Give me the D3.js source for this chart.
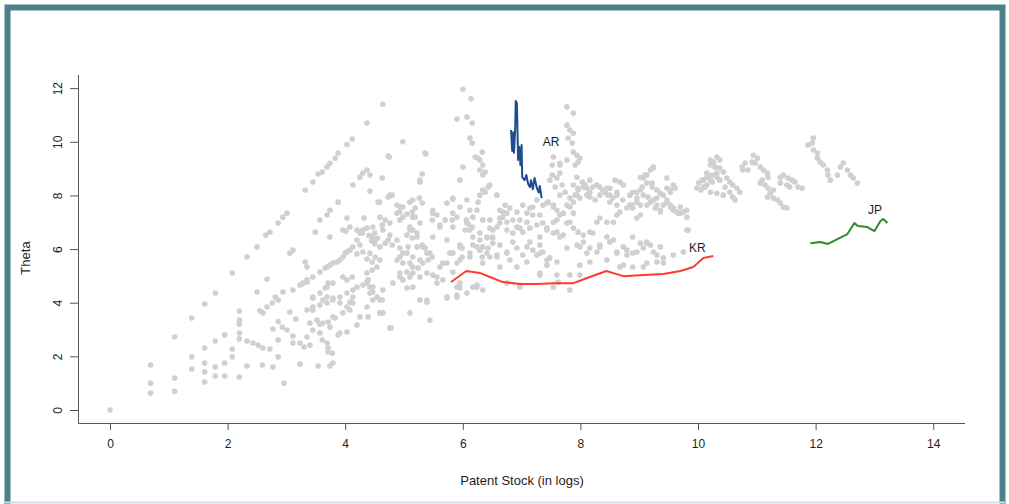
<!DOCTYPE html>
<html>
<head>
<meta charset="utf-8">
<script src="https://cdn.jsdelivr.net/npm/d3@7"></script>
<style>
  html, body { margin: 0; padding: 0; background: #fff; }
  svg { display: block; font-family: "Liberation Sans", Arial, sans-serif; }
</style>
</head>
<body>
<div id="chart"></div>
<script>
// tick labels
const xTicks = [0, 2, 4, 6, 8, 10, 12, 14];
const yTicks = [0, 2, 4, 6, 8, 10, 12];

const obsLowStock = [
  [0, 0], [0.69, 0.63], [0.69, 1.0], [0.69, 1.68], [1.1, 0.7], [1.1, 1.19], [1.1, 2.72],
  [1.39, 1.53], [1.39, 1.98], [1.39, 3.43], [1.61, 1.04], [1.61, 1.42], [1.61, 1.75], [1.61, 2.31],
  [1.61, 3.95], [1.79, 1.27], [1.79, 1.6], [1.79, 2.57], [1.79, 4.36], [1.95, 1.27], [1.95, 1.75],
  [1.95, 2.8], [2.08, 1.98], [2.08, 2.27], [2.08, 5.11], [2.2, 1.23], [2.2, 2.65], [2.2, 2.87],
  [2.2, 3.2], [2.2, 3.35], [2.2, 3.69], [2.33, 5.7], [2.33, 2.57], [2.33, 1.64]
];
const obsLeftFan = [
  [2.5, 6.08], [2.65, 6.52], [2.72, 6.63], [2.86, 6.97], [2.94, 7.19], [3.01, 7.34], [3.32, 8.2], [3.45, 8.5],
  [2.43, 2.5], [2.52, 2.42], [2.6, 2.31], [2.72, 2.27], [2.59, 1.68], [2.77, 1.6], [2.96, 1.0],
  [2.86, 1.98], [2.86, 2.61], [2.77, 3.02], [2.93, 3.09], [3.01, 2.98], [3.11, 2.76], [3.11, 2.5],
  [3.23, 2.5], [3.3, 2.35], [3.4, 2.42], [3.35, 2.72], [3.23, 1.71], [2.5, 4.4], [2.67, 4.88],
  [2.6, 3.62], [2.67, 3.84], [2.76, 3.99], [2.81, 4.21], [2.86, 4.1], [2.55, 3.7], [2.86, 3.3],
  [3.06, 3.65], [3.16, 3.39], [2.94, 4.4], [3.11, 4.47], [3.23, 4.66], [3.35, 4.77], [3.45, 4.96],
  [3.11, 5.96], [3.06, 5.85], [3.32, 5.52], [3.35, 5.33], [3.45, 3.73], [3.45, 4.17], [3.45, 2.98],
  [3.35, 3.73], [3.45, 3.84], [3.4, 3.24], [3.52, 3.35], [3.28, 4.73], [3.35, 4.85], [3.45, 4.21]
];
const obsUpperRidge = [
  [3.54, 8.8], [3.61, 8.87], [3.69, 9.06], [3.74, 9.2], [3.83, 9.39], [3.88, 9.58], [4.03, 9.9],
  [4.12, 10.1], [4.37, 10.7], [4.64, 11.4], [4.98, 10.0], [4.75, 9.43], [4.73, 9.47], [4.63, 8.65],
  [4.42, 8.76], [4.37, 8.95], [4.3, 8.83], [4.25, 8.68], [4.13, 8.39], [4.42, 8.16], [3.88, 7.75],
  [3.74, 7.45], [3.69, 7.27], [3.57, 7.08], [3.49, 6.63], [3.74, 6.45], [4.03, 7.16], [4.01, 6.67],
  [4.32, 7.16], [4.58, 7.75], [4.73, 7.94], [4.8, 8.01], [4.76, 8.01], [4.56, 7.75], [5.37, 9.54],
  [5.36, 9.58], [5.27, 8.5], [5.31, 8.8], [5.27, 8.57]
];
const obsCore = [
  [3.57, 5.14], [3.66, 5.29], [3.74, 5.4], [3.86, 5.52], [3.96, 5.7], [4.03, 5.89], [4.13, 6.08],
  [4.2, 6.34], [4.25, 6.6], [4.3, 6.71], [4.37, 6.78], [4.47, 6.82], [3.54, 1.64], [3.74, 1.64],
  [3.79, 1.75], [3.61, 2.61], [3.69, 2.5], [3.71, 2.31], [3.71, 2.16], [3.78, 2.12], [3.57, 3.2],
  [3.71, 3.28], [3.83, 3.43], [3.88, 2.8], [4.03, 2.91], [4.2, 3.17], [4.39, 3.47], [4.64, 3.62],
  [4.78, 3.06], [3.57, 3.91], [3.62, 4.1], [3.69, 4.21], [3.79, 4.17], [3.91, 3.99], [4.03, 3.84],
  [4.08, 4.02], [4.13, 4.21], [3.57, 4.36], [3.66, 4.55], [3.71, 4.73], [3.96, 4.96], [4.03, 4.85],
  [4.13, 4.47], [4.2, 4.58], [4.3, 4.66], [4.37, 4.77], [4.42, 4.58], [4.47, 4.4], [4.54, 4.21],
  [4.63, 4.1], [3.96, 6.71], [4.08, 6.82], [4.2, 6.71], [4.29, 6.6], [4.46, 6.45], [4.51, 6.34],
  [4.59, 6.08], [4.25, 6.15], [4.3, 5.89], [4.37, 5.63], [4.46, 5.52], [4.2, 5.82], [4.08, 5.96],
  [4.0, 5.85], [3.91, 5.59], [3.79, 5.48], [3.69, 5.33], [3.69, 3.99], [3.79, 4.1], [3.91, 4.21],
  [4.03, 4.36], [3.62, 3.24], [3.79, 3.47], [3.96, 3.62], [4.08, 3.73], [4.13, 3.99], [3.91, 2.87],
  [3.74, 3.09], [3.57, 2.87], [4.37, 4.73], [4.42, 4.36], [4.47, 4.1], [4.37, 3.84], [4.25, 3.47],
  [4.59, 3.62], [4.76, 3.06], [4.12, 4.96], [3.79, 4.73], [3.69, 4.58], [4.47, 4.58], [4.39, 4.85],
  [4.37, 5.11], [4.46, 5.22], [4.54, 5.33], [4.59, 5.59], [4.51, 5.7], [4.42, 5.85], [4.4, 6.5],
  [4.5, 6.6], [4.55, 6.4], [4.45, 6.3], [4.5, 6.2]
];
const obsCentre = [
  [4.59, 7.19], [4.68, 7.08], [4.63, 6.9], [4.64, 6.71], [4.76, 6.97], [4.76, 6.52], [4.73, 6.34],
  [4.68, 6.22], [4.8, 6.15], [4.88, 6.34], [4.93, 6.04], [5.05, 5.85], [4.93, 5.7], [4.88, 5.59],
  [4.98, 5.48], [5.1, 5.48], [5.14, 5.33], [5.24, 5.29], [5.32, 5.48], [5.39, 5.85], [5.48, 5.7],
  [5.41, 5.59], [5.49, 5.03], [5.56, 4.96], [5.61, 5.33], [5.73, 5.48], [5.83, 5.85], [5.9, 5.48],
  [5.95, 6.15], [5.99, 6.04], [5.99, 5.7], [6.12, 5.7], [6.17, 6.15], [5.95, 4.73], [5.95, 4.55],
  [6.17, 4.58], [6.24, 4.58], [5.39, 5.11], [5.27, 4.96], [5.15, 5.11], [5.1, 4.96], [4.98, 4.85],
  [4.93, 4.96], [4.81, 4.73], [4.64, 4.47], [4.59, 4.1], [4.59, 3.62], [5.44, 3.35], [5.39, 4.02],
  [5.73, 4.17], [5.9, 4.29], [5.56, 4.73], [4.88, 7.34], [4.98, 7.19], [4.93, 7.08], [5.1, 6.82],
  [5.15, 6.71], [5.22, 6.6], [5.05, 6.52], [5.14, 6.41], [5.22, 6.08], [5.31, 6.15], [5.36, 6.04],
  [4.88, 7.64], [4.93, 7.57], [4.98, 7.57], [4.93, 7.38], [5.1, 7.75], [5.15, 7.83], [5.26, 7.9],
  [5.31, 7.72], [5.19, 7.53], [5.14, 7.38], [5.19, 7.19], [5.05, 7.31], [5.73, 7.72], [5.83, 7.86],
  [5.49, 7.45], [5.56, 7.27], [5.48, 7.08], [5.61, 6.9], [5.7, 7.08], [5.82, 7.08], [5.9, 7.19],
  [5.15, 7.19], [5.27, 6.97], [5.1, 6.71], [5.22, 6.45], [5.07, 6.08], [4.98, 5.85], [5.15, 5.7],
  [5.27, 5.59], [5.15, 5.33], [5.05, 5.14], [5.32, 6.08], [5.44, 5.85], [5.49, 6.45], [5.61, 6.82],
  [5.73, 6.34], [5.83, 6.82], [5.49, 7.34], [5.83, 7.34], [5.83, 7.9], [5.95, 7.57], [4.93, 5.11],
  [5.05, 4.55], [5.15, 4.58], [5.27, 4.1], [5.1, 3.62], [5.66, 5.48], [5.78, 5.85], [5.95, 6.08],
  [5.95, 5.59], [5.83, 5.14], [5.66, 4.85], [5.9, 4.58], [5.73, 4.21], [5.9, 4.21], [5.39, 4.1]
];
const obsNearAR = [
  [6.0, 11.96], [6.14, 11.6], [5.9, 10.85], [6.07, 10.92], [6.16, 10.7], [6.12, 10.14], [6.16, 9.95],
  [6.21, 9.43], [6.26, 9.39], [6.33, 9.62], [6.34, 9.13], [6.38, 8.87], [6.29, 8.95], [6.0, 9.06],
  [5.95, 8.57], [6.46, 8.39], [6.34, 8.2], [6.29, 8.01], [6.29, 9.32], [6.34, 8.76], [6.38, 8.12],
  [6.43, 8.31], [6.26, 7.75], [6.12, 7.45], [6.06, 7.08], [6.09, 6.93], [6.16, 6.82], [6.04, 6.71],
  [6.17, 6.45], [6.29, 6.34], [6.41, 6.41], [6.5, 6.45], [6.51, 6.22], [6.43, 6.04], [6.34, 6.08],
  [6.29, 5.96], [6.33, 5.7], [6.46, 5.7], [6.07, 7.83], [6.24, 7.45], [6.17, 7.19], [6.34, 7.08],
  [6.46, 7.08], [6.07, 6.97], [6.12, 6.71], [6.29, 6.6], [6.41, 6.45], [6.51, 6.71], [6.63, 6.97],
  [6.68, 7.19], [6.75, 7.34], [6.63, 7.45], [6.58, 6.82], [6.75, 6.71], [6.85, 6.6], [6.92, 6.82],
  [6.97, 7.08], [7.09, 7.34], [7.19, 7.57], [7.26, 7.83], [6.58, 8.01], [6.72, 7.64], [6.8, 7.53],
  [6.68, 7.38], [6.63, 7.16], [6.75, 7.0], [6.85, 7.08], [6.92, 7.38], [7.02, 7.64], [7.14, 7.53],
  [7.19, 7.27], [7.09, 7.0], [6.97, 6.78], [7.02, 6.63], [7.14, 6.78], [7.26, 6.9], [7.31, 7.27],
  [7.36, 7.64], [7.45, 7.75], [6.46, 6.78], [6.51, 6.41], [6.63, 6.15], [6.75, 5.89], [6.58, 5.78],
  [6.92, 6.04], [6.85, 6.26], [7.02, 5.78], [7.09, 5.52], [7.14, 6.26], [7.31, 6.15], [7.26, 5.78],
  [7.36, 5.89], [7.48, 5.67], [7.43, 5.4], [7.31, 6.45], [7.31, 5.03], [6.97, 4.66], [6.12, 5.85],
  [6.24, 6.08], [6.41, 5.85], [6.34, 5.48], [6.58, 5.7], [6.75, 5.85], [6.8, 5.59], [6.63, 5.33],
  [6.92, 5.33], [7.09, 6.08], [7.19, 5.96], [7.31, 5.85], [7.43, 5.59], [7.31, 5.11], [6.97, 4.58],
  [6.75, 4.73], [6.24, 4.66], [6.34, 4.47], [6.07, 4.36]
];
const obsMidRight = [
  [7.77, 11.3], [7.88, 11.07], [7.77, 10.62], [7.82, 10.44], [7.88, 10.32], [7.79, 10.14], [7.86, 9.95],
  [7.88, 9.62], [7.94, 9.5], [7.99, 9.39], [7.96, 9.24], [7.91, 9.13], [7.54, 9.43], [7.65, 9.13],
  [7.77, 9.32], [7.52, 8.76], [7.6, 8.65], [7.52, 9.13], [7.65, 9.2], [7.65, 8.83], [7.48, 8.57],
  [7.69, 8.39], [7.57, 8.31], [7.65, 8.01], [7.74, 8.12], [7.82, 7.9], [7.77, 7.64], [7.88, 7.75],
  [7.94, 8.01], [7.96, 8.27], [7.88, 8.39], [7.94, 8.68], [8.03, 8.5], [8.08, 8.39], [8.11, 8.27],
  [8.16, 8.12], [8.21, 8.31], [8.28, 8.39], [8.33, 8.31], [8.16, 7.94], [8.25, 7.83], [8.33, 8.01],
  [8.42, 8.12], [8.5, 8.27], [8.5, 8.01], [8.62, 8.12], [8.59, 8.57], [8.67, 8.5], [8.73, 8.39],
  [8.5, 7.75], [8.62, 7.64], [8.67, 7.38], [8.79, 7.53], [8.84, 7.64], [8.62, 8.01], [8.05, 8.31],
  [8.11, 8.01], [7.96, 8.2], [7.91, 8.01], [7.99, 7.9], [8.16, 8.57], [8.38, 8.2], [8.45, 8.27],
  [8.47, 8.01], [8.55, 7.9], [8.72, 7.83], [7.43, 7.72], [7.54, 7.57], [7.6, 7.08], [7.36, 6.97],
  [7.43, 6.71], [7.54, 6.6], [7.65, 6.45], [7.77, 6.97], [7.71, 7.34], [7.88, 7.34], [7.82, 7.57],
  [7.54, 7.64], [7.6, 7.45], [7.65, 7.27], [7.54, 7.0], [7.43, 6.78], [7.6, 6.63], [7.71, 6.52],
  [7.82, 7.0], [7.88, 6.78], [7.96, 6.63], [8.05, 6.52], [8.16, 6.63], [8.28, 7.0], [8.33, 7.16],
  [8.45, 7.0], [8.56, 7.0], [8.62, 7.27], [7.6, 5.52], [7.77, 6.04], [7.94, 6.15], [8.05, 6.26],
  [8.16, 6.04], [8.28, 5.89], [8.33, 6.15], [8.5, 6.26], [8.62, 5.89], [8.79, 5.78], [8.96, 5.89],
  [9.07, 6.04], [9.13, 6.26], [9.24, 5.89], [9.3, 5.78], [9.41, 5.67], [9.58, 5.78], [9.75, 5.89],
  [7.6, 5.03], [7.82, 5.03], [7.99, 5.03], [7.62, 4.77], [7.82, 4.47], [7.99, 5.4], [8.16, 5.52],
  [8.73, 5.4], [9.3, 5.52], [9.07, 5.33], [7.54, 4.58], [7.99, 6.08], [8.11, 5.85], [8.33, 6.08],
  [8.45, 5.59], [8.62, 5.85], [8.73, 6.08], [8.89, 5.85], [9.13, 6.22], [9.13, 5.48], [9.41, 5.48],
  [8.89, 5.33], [8.67, 5.33], [8.21, 6.6], [8.45, 6.45], [8.56, 6.34], [8.79, 5.96], [9.02, 6.22],
  [8.89, 6.45], [9.19, 6.15], [9.36, 6.08]
];
const obsRight = [
  [9.02, 8.68], [9.1, 8.76], [9.19, 8.95], [9.24, 9.06], [9.13, 8.46], [9.22, 8.31], [9.3, 8.2],
  [9.36, 8.08], [9.41, 8.01], [9.47, 7.83], [9.53, 7.57], [9.58, 7.45], [9.66, 7.34], [9.75, 7.38],
  [9.81, 7.19], [9.02, 8.2], [9.07, 8.01], [9.15, 7.94], [9.24, 7.83], [9.3, 7.64], [9.36, 7.45],
  [8.89, 8.12], [8.84, 8.01], [8.96, 7.9], [8.88, 7.64], [9.02, 7.64], [9.47, 8.27], [9.53, 8.2],
  [9.61, 8.27], [8.96, 8.12], [9.05, 8.31], [9.07, 8.65], [9.13, 8.76], [9.24, 9.02], [9.22, 8.46],
  [9.3, 7.9], [9.47, 7.75], [9.53, 7.64], [9.41, 7.64], [9.58, 7.53], [9.64, 7.38], [9.7, 7.34],
  [9.53, 8.12], [9.58, 8.39], [9.47, 8.65], [8.96, 7.75], [8.89, 7.53], [8.96, 7.16], [9.13, 7.64],
  [9.19, 7.75], [9.27, 7.53], [9.36, 7.38], [9.02, 7.27], [9.83, 6.71], [9.81, 6.71], [9.7, 7.57],
  [9.81, 7.45], [10.21, 9.32], [10.29, 9.06], [10.15, 8.83], [10.07, 8.57], [10.09, 8.31],
  [10.21, 8.57], [10.32, 8.68], [10.32, 9.43], [10.37, 9.32], [10.26, 9.24], [10.21, 9.13],
  [10.29, 9.06], [10.37, 9.02], [10.43, 8.87], [10.32, 8.83], [10.24, 8.76], [10.15, 8.68],
  [10.09, 8.57], [10.01, 8.46], [9.98, 8.27], [10.05, 8.2], [10.15, 8.39], [10.24, 8.5],
  [10.37, 8.57], [10.49, 8.65], [10.54, 8.5], [10.59, 8.39], [10.66, 8.27], [10.71, 8.12],
  [10.54, 8.12], [10.59, 7.94], [10.63, 7.83], [10.46, 8.31], [10.43, 8.01], [10.32, 8.08],
  [10.21, 8.12], [10.12, 8.31]
];
const obsFarRight = [
  [10.94, 9.5], [11.01, 9.39], [10.92, 9.24], [10.8, 9.21], [10.75, 9.06], [10.76, 8.95], [10.85, 8.95],
  [10.97, 9.21], [11.06, 9.06], [11.11, 8.95], [11.18, 8.83], [11.19, 8.68], [11.09, 8.57], [11.06, 8.46],
  [11.14, 8.39], [11.19, 8.27], [11.28, 8.2], [11.23, 8.08], [11.18, 7.94], [11.28, 7.9], [11.35, 7.83],
  [11.4, 7.72], [11.45, 7.57], [11.51, 7.53], [11.4, 8.68], [11.45, 8.76], [11.53, 8.65], [11.6, 8.57],
  [11.65, 8.5], [11.7, 8.31], [11.77, 8.27], [11.51, 8.39], [11.56, 8.31], [11.4, 8.46],
  [11.96, 10.14], [11.94, 9.95], [11.87, 9.88], [11.96, 9.69], [12.03, 9.58], [12.03, 9.39],
  [12.08, 9.24], [12.13, 9.13], [12.2, 8.95], [12.21, 8.76], [12.25, 8.57], [12.37, 8.76],
  [12.42, 9.06], [12.47, 9.21], [12.54, 8.95], [12.59, 8.76], [12.64, 8.65], [12.71, 8.46]
];

// highlighted countries
const arStock = [6.82, 6.84, 6.86, 6.87, 6.89, 6.9, 6.92, 6.94, 6.96, 6.98, 7.0, 7.01, 7.05,
  7.08, 7.11, 7.14, 7.16, 7.19, 7.22, 7.26, 7.29, 7.31, 7.34];
const arTheta = [10.44, 9.66, 10.36, 9.59, 10.44, 11.52, 11.44, 9.32, 9.81, 9.13, 9.88, 8.68,
  8.57, 8.76, 8.43, 8.31, 8.57, 8.23, 8.65, 8.27, 8.11, 8.35, 7.9];
const krStock = [5.8, 6.06, 6.29, 6.46, 6.68, 6.97, 7.26, 7.54, 7.88, 8.16, 8.44, 8.73, 9.07,
  9.41, 9.7, 9.92, 10.09, 10.26];
const krTheta = [4.77, 5.18, 5.11, 4.96, 4.77, 4.7, 4.7, 4.73, 4.73, 4.96, 5.18, 4.99, 5.03,
  5.07, 5.18, 5.33, 5.67, 5.74];
const jpStock = [11.91, 12.08, 12.21, 12.37, 12.54, 12.66, 12.72, 12.88, 13.0, 13.1, 13.15, 13.22];
const jpTheta = [6.22, 6.26, 6.19, 6.37, 6.56, 6.97, 6.86, 6.82, 6.67, 7.04, 7.12, 6.97];

const countries = ["AR", "KR", "JP"];
const labelStock = [7.5, 9.99, 13.01];
const labelTheta = [10.0, 6.04, 7.45];

const allObs = [].concat(obsLowStock, obsLeftFan, obsUpperRidge, obsCore, obsCentre,
  obsNearAR, obsMidRight, obsRight, obsFarRight);

const W = 1009, H = 504;
const svg = d3.select('#chart').append('svg')
  .attr('width', W).attr('height', H);

svg.append('rect').attr('width', W).attr('height', H).attr('fill', '#fff');

// teal frame
const frame = '#4b8289';
svg.append('path')
  .attr('d', `M7.5,${H} V7.5 H1002.5 V${H}`)
  .attr('fill', 'none').attr('stroke', frame).attr('stroke-width', 6);
svg.append('line')
  .attr('x1', 5).attr('x2', 1005).attr('y1', 502.5).attr('y2', 502.5)
  .attr('stroke', '#cfe2e4').attr('stroke-width', 2);

// plot region (R bty="l")
const x = d3.scaleLinear().domain([-0.544, 14.54]).range([78, 965]);
const y = d3.scaleLinear().domain([-0.485, 12.49]).range([423, 75]);

const axisColor = '#555';
const textColor = '#1e1e1e';

const g = svg.append('g');

// points
g.selectAll('circle.obs')
  .data(allObs)
  .enter().append('circle')
  .attr('class', 'obs')
  .attr('r', 2.8)
  .attr('cx', d => x(d[0]))
  .attr('cy', d => y(d[1]))
  .style('fill', '#d0d0d0');

// country lines
const line = d3.line().x(d => x(d[0])).y(d => y(d[1]));
const series = [
  {stock: arStock, theta: arTheta, color: '#1d4f8f'},
  {stock: krStock, theta: krTheta, color: '#ff3b2f'},
  {stock: jpStock, theta: jpTheta, color: '#2d8a2d'}
];
series.forEach(s => {
  g.append('path')
    .attr('d', line(s.stock.map((v, i) => [v, s.theta[i]])))
    .attr('fill', 'none')
    .attr('stroke', s.color)
    .attr('stroke-width', 2)
    .attr('stroke-linejoin', 'round');
});

g.selectAll('text.lab')
  .data(countries)
  .enter().append('text')
  .attr('class', 'lab')
  .attr('x', (d, i) => x(labelStock[i]))
  .attr('y', (d, i) => y(labelTheta[i]))
  .attr('dy', '0.35em')
  .attr('text-anchor', 'middle')
  .style('font-size', '12px')
  .style('fill', textColor)
  .text(d => d);

// Add the X Axis
const xAxis = svg.append('g')
  .attr('transform', 'translate(0,423)')
  .call(d3.axisBottom(x).tickValues(xTicks).tickSize(7).tickPadding(9));
xAxis.select('.domain').remove();
xAxis.selectAll('line').attr('stroke', axisColor);
xAxis.selectAll('text').style('font-size', '12px').style('fill', textColor)
  .style('font-family', '"Liberation Sans", Arial, sans-serif');

// Add the Y Axis
const yAxis = svg.append('g')
  .attr('transform', 'translate(78,0)')
  .call(d3.axisLeft(y).tickValues(yTicks).tickSize(8));
yAxis.select('.domain').remove();
yAxis.selectAll('line').attr('stroke', axisColor);
yAxis.selectAll('text')
  .attr('x', 0).attr('dy', 0)
  .attr('transform', 'translate(-16.5,0) rotate(-90)')
  .attr('text-anchor', 'middle')
  .style('font-size', '12px').style('fill', textColor)
  .style('font-family', '"Liberation Sans", Arial, sans-serif');

// L-shaped box
svg.append('path')
  .attr('d', 'M78.5,75 V423.5 H965')
  .attr('fill', 'none').attr('stroke', axisColor).attr('stroke-width', 1);

// axis titles
svg.append('text')
  .attr('x', 522).attr('y', 485)
  .attr('text-anchor', 'middle')
  .style('font-size', '13px').style('fill', textColor)
  .text('Patent Stock (in logs)');

svg.append('text')
  .attr('transform', 'translate(30,258) rotate(-90)')
  .attr('text-anchor', 'middle')
  .style('font-size', '13px').style('fill', textColor)
  .text('Theta');
</script>
</body>
</html>
